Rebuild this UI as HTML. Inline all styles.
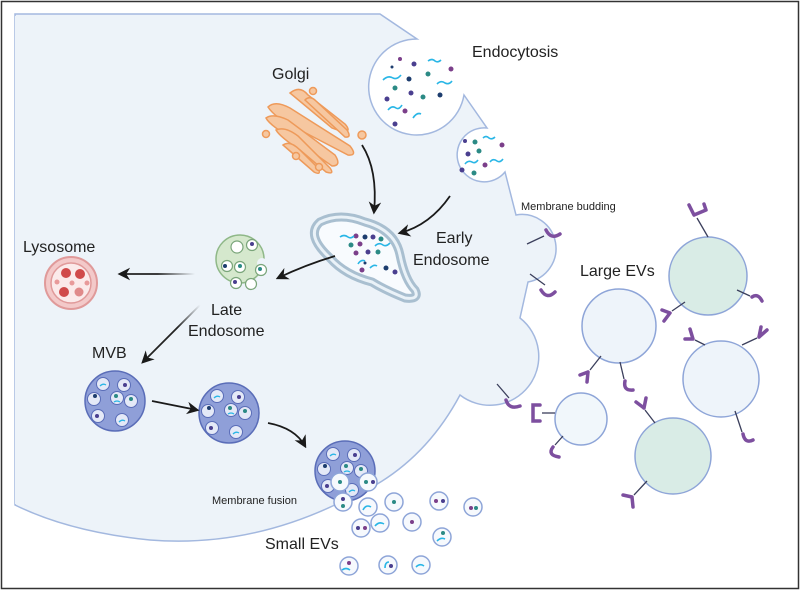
<!DOCTYPE html>
<html><head><meta charset="utf-8"><style>
html,body{margin:0;padding:0;background:#fff}
svg{display:block}
text{font-family:"Liberation Sans",sans-serif;fill:#222}
</style></head><body>
<svg width="800" height="592" viewBox="0 0 800 592" xmlns="http://www.w3.org/2000/svg">
<defs>
<marker id="ah" viewBox="0 0 10 10" refX="8" refY="5" markerWidth="7" markerHeight="7" orient="auto"><path d="M0,0 L10,5 L0,10 L3,5 z" fill="#1a1a1a"/></marker>
<linearGradient id="fadeL" gradientUnits="userSpaceOnUse" x1="195" y1="274" x2="120" y2="274"><stop offset="0" stop-color="#222" stop-opacity="0"/><stop offset="0.5" stop-color="#222"/></linearGradient>
<linearGradient id="fadeD" gradientUnits="userSpaceOnUse" x1="200" y1="305" x2="143" y2="362"><stop offset="0" stop-color="#222" stop-opacity="0"/><stop offset="0.4" stop-color="#222"/></linearGradient>
</defs>
<rect x="0" y="0" width="800" height="592" fill="#fff"/>
<!-- cell -->
<path d="M15,14 L380,14 L417,39 A48,48 0 1 0 464,95 L487,128 A27,27 0 1 0 505,172 L516,215 A30,30 0 0 1 528,282 L520,318 A40,40 0 0 1 460,395 Q420,470 345,500 Q250,548 150,540 Q70,532 15,505 Z" fill="#edf3f9" stroke="#a3b8df" stroke-width="1.5"/>
<rect x="15" y="16" width="3" height="488" fill="#edf3f9"/>
<!-- endocytosis pocket contents -->
<g>
<circle cx="400" cy="59" r="2" fill="#7b3f8a"/><circle cx="414" cy="64" r="2.5" fill="#4a3f8f"/><circle cx="392" cy="67" r="1.5" fill="#1d3d6e"/>
<circle cx="409" cy="79" r="2.5" fill="#1d3d6e"/><circle cx="428" cy="74" r="2.5" fill="#2b8a85"/><circle cx="395" cy="88" r="2.5" fill="#2b8a85"/>
<circle cx="411" cy="93" r="2.5" fill="#4a3f8f"/><circle cx="423" cy="97" r="2.5" fill="#2b8a85"/><circle cx="440" cy="95" r="2.5" fill="#1d3d6e"/>
<circle cx="387" cy="99" r="2.5" fill="#4a3f8f"/><circle cx="405" cy="111" r="2.5" fill="#7b3f8a"/><circle cx="395" cy="124" r="2.5" fill="#4a3f8f"/><circle cx="451" cy="69" r="2.5" fill="#7b3f8a"/>
<path d="M383,80 q5,-5 10,-2 q4,2 8,-3 M437,84 q4,-4 8,-1 q4,2 7,-2 M388,110 q4,-5 8,-2 q3,2 6,-3 M413,118 q4,-6 8,-4 M428,61 q4,-3 7,0 q3,2 6,-1" stroke="#29b6e6" stroke-width="1.6" fill="none"/>
<circle cx="465" cy="141" r="2" fill="#4a3f8f"/><circle cx="475" cy="142" r="2.5" fill="#2b8a85"/><circle cx="502" cy="145" r="2.5" fill="#7b3f8a"/>
<circle cx="468" cy="154" r="2.5" fill="#4a3f8f"/><circle cx="479" cy="151" r="2.5" fill="#2b8a85"/><circle cx="485" cy="165" r="2.5" fill="#7b3f8a"/><circle cx="462" cy="170" r="2.5" fill="#4a3f8f"/><circle cx="474" cy="173" r="2.5" fill="#2b8a85"/>
<path d="M483,138 q3,-3 6,0 q3,2 6,-1 M465,164 q3,-4 7,-2 q3,2 6,-2 M490,162 q3,-4 7,-1 q3,2 6,-2" stroke="#29b6e6" stroke-width="1.6" fill="none"/>
</g>
<!-- Golgi -->
<g fill="#f6c7a0" stroke="#ee9a5a" stroke-width="1.5">
<path d="M290,93 Q300,85 308,95 L345,124 Q352,132 343,132 L332,128 Z"/>
<path d="M305,100 Q310,95 316,101 L347,130 Q352,138 345,137 Z" />
<path d="M268,107 Q275,100 290,108 L350,146 Q358,156 348,155 L300,130 Q275,118 268,107 Z"/>
<path d="M266,118 Q273,113 288,120 L335,155 Q342,166 332,166 L298,142 Q270,126 266,118 Z"/>
<path d="M276,130 Q285,126 298,136 L330,168 Q335,175 326,172 L300,150 Q280,137 276,130 Z"/>
<path d="M283,145 Q290,140 300,150 L318,168 Q322,176 314,172 Z"/>
<circle cx="313" cy="91" r="3.5"/><circle cx="362" cy="135" r="4"/><circle cx="266" cy="134" r="3.5"/><circle cx="296" cy="156" r="3.5"/><circle cx="319" cy="167" r="3.5"/>
</g>
<!-- Early endosome -->
<path d="M320,222 Q340,212 365,222 Q395,230 400,255 Q405,280 415,290 Q420,300 405,298 Q385,290 372,282 Q345,275 330,258 Q305,235 320,222 Z" fill="#f8fbfe" stroke="#a9bfd0" stroke-width="9"/>
<path d="M320,222 Q340,212 365,222 Q395,230 400,255 Q405,280 415,290 Q420,300 405,298 Q385,290 372,282 Q345,275 330,258 Q305,235 320,222 Z" fill="none" stroke="#eaf2f8" stroke-width="3"/>
<g>
<circle cx="356" cy="236" r="2.5" fill="#7b3f8a"/><circle cx="365" cy="237" r="2.5" fill="#1d3d6e"/><circle cx="373" cy="237" r="2.5" fill="#4a3f8f"/><circle cx="381" cy="239" r="2.5" fill="#2b8a85"/>
<circle cx="351" cy="245" r="2.5" fill="#2b8a85"/><circle cx="360" cy="244" r="2.5" fill="#7b3f8a"/><circle cx="368" cy="252" r="2.5" fill="#4a3f8f"/><circle cx="378" cy="252" r="2.5" fill="#2b8a85"/>
<circle cx="356" cy="253" r="2.5" fill="#7b3f8a"/><circle cx="365" cy="263" r="1.5" fill="#1d3d6e"/><circle cx="362" cy="270" r="2.5" fill="#7b3f8a"/><circle cx="386" cy="268" r="2.5" fill="#1d3d6e"/><circle cx="395" cy="272" r="2.5" fill="#4a3f8f"/>
<path d="M340,237 q4,-3 8,0 q3,2 6,-1 M375,246 q4,-4 8,-1 q3,2 7,-2 M358,264 q3,-5 7,-3 M370,268 q4,-4 7,-2" stroke="#29b6e6" stroke-width="1.6" fill="none"/>
</g>
<!-- Lysosome -->
<circle cx="71" cy="283" r="26" fill="#f3c9c9" stroke="#e09a9a" stroke-width="2"/>
<circle cx="71" cy="283" r="20" fill="#fbeaea" stroke="#e09a9a" stroke-width="1.5"/>
<g fill="#d04a4a"><circle cx="66" cy="273" r="5"/><circle cx="80" cy="274" r="5"/><circle cx="64" cy="292" r="5"/><circle cx="79" cy="292" r="4.5" fill="#e08a8a"/></g>
<g fill="#e89a9a"><circle cx="72" cy="283" r="2.5"/><circle cx="57" cy="282" r="2.5"/><circle cx="87" cy="283" r="2.5"/></g>
<!-- Late endosome -->
<circle cx="240" cy="259" r="24" fill="#d5e8cd" stroke="#8fb888" stroke-width="1.5"/>
<circle cx="262" cy="263" r="5" fill="#edf3f9"/>
<g fill="#fff" stroke="#7aa57a" stroke-width="1.2">
<circle cx="237" cy="247" r="6"/><circle cx="252" cy="245" r="5.5"/><circle cx="227" cy="266" r="5.5"/><circle cx="240" cy="267" r="5.5"/><circle cx="261" cy="270" r="5.5"/><circle cx="236" cy="283" r="5.5"/><circle cx="251" cy="284" r="5.5"/>
</g>
<g><circle cx="252" cy="244" r="2" fill="#4a3f8f"/><circle cx="225" cy="266" r="2" fill="#1d3d6e"/><circle cx="240" cy="266" r="2" fill="#2b8a85"/><circle cx="260" cy="269" r="2" fill="#2b8a85"/><circle cx="235" cy="282" r="2" fill="#4a3f8f"/></g>
<!-- MVBs -->
<g id="mvb">
<circle cx="115" cy="401" r="30" fill="#8f9fd8" stroke="#5a6db8" stroke-width="1.5"/>
<g fill="#e4e9f7" stroke="#5a6db8" stroke-width="1"><circle cx="103" cy="384" r="6.5"/><circle cx="124" cy="385" r="6.5"/><circle cx="94" cy="399" r="6.5"/><circle cx="117" cy="398" r="6.5"/><circle cx="131" cy="401" r="6.5"/><circle cx="98" cy="416" r="6.5"/><circle cx="122" cy="420" r="6.5"/></g>
<g><circle cx="125" cy="385" r="2" fill="#4a3f8f"/><circle cx="95" cy="396" r="2" fill="#1d3d6e"/><circle cx="116" cy="396" r="2" fill="#2b8a85"/><circle cx="131" cy="399" r="2" fill="#2b8a85"/><circle cx="97" cy="416" r="2" fill="#4a3f8f"/></g>
<path d="M100,386 q3,-3 6,-1 M119,422 q3,-3 6,-1 M114,402 q3,-2 6,0" stroke="#29b6e6" stroke-width="1.3" fill="none"/>
</g>
<use href="#mvb" transform="translate(114,12)"/>
<g>
<clipPath id="cp3"><path d="M310,440 L380,440 L380,500 L328,510 L310,510 Z"/></clipPath>
<g clip-path="url(#cp3)"><use href="#mvb" transform="translate(230,70)"/></g>
</g>
<!-- small EVs -->
<g fill="#f6f9fd" stroke="#8ea5d8" stroke-width="1.5">
<circle cx="340" cy="482" r="9"/><circle cx="368" cy="482" r="9"/><circle cx="343" cy="502" r="9"/><circle cx="368" cy="507" r="9"/><circle cx="394" cy="502" r="9"/><circle cx="439" cy="501" r="9"/><circle cx="473" cy="507" r="9"/>
<circle cx="361" cy="528" r="9"/><circle cx="380" cy="523" r="9"/><circle cx="412" cy="522" r="9"/><circle cx="442" cy="537" r="9"/><circle cx="349" cy="566" r="9"/><circle cx="388" cy="565" r="9"/><circle cx="421" cy="565" r="9"/>
</g>
<g><circle cx="340" cy="482" r="2" fill="#2b8a85"/><circle cx="366" cy="482" r="2" fill="#2b8a85"/><circle cx="373" cy="482" r="2" fill="#4a3f8f"/><circle cx="343" cy="499" r="2" fill="#4a3f8f"/><circle cx="343" cy="506" r="2" fill="#2b8a85"/><circle cx="394" cy="502" r="2" fill="#2b8a85"/><circle cx="436" cy="501" r="2" fill="#7b3f8a"/><circle cx="443" cy="501" r="2" fill="#4a3f8f"/><circle cx="471" cy="508" r="2" fill="#7b3f8a"/><circle cx="476" cy="508" r="2" fill="#2b8a85"/><circle cx="358" cy="528" r="2" fill="#4a3f8f"/><circle cx="365" cy="528" r="2" fill="#7b3f8a"/><circle cx="412" cy="522" r="2" fill="#7b3f8a"/><circle cx="443" cy="533" r="2" fill="#2b8a85"/><circle cx="349" cy="563" r="2" fill="#7b3f8a"/><circle cx="391" cy="566" r="2" fill="#4a3f8f"/></g>
<path d="M363,510 q3,-6 8,-3 M375,526 q4,-5 9,-2 M437,541 q4,-4 8,-2 M342,570 q4,-3 8,0 M385,568 q0,-6 4,-6 M416,567 q4,-4 8,-1" stroke="#29b6e6" stroke-width="1.6" fill="none"/>
<!-- Large EVs -->
<g stroke="#8ea5d8" stroke-width="1.5">
<circle cx="708" cy="276" r="39" fill="#d9ece6"/>
<circle cx="619" cy="326" r="37" fill="#eef4fa"/>
<circle cx="721" cy="379" r="38" fill="#eef4fa"/>
<circle cx="581" cy="419" r="26" fill="#f1f7fb"/>
<circle cx="673" cy="456" r="38" fill="#d9ece6"/>
</g>
<!-- receptors -->
<g stroke="#3b3f5c" stroke-width="1.3">
<line x1="544" y1="236" x2="527" y2="244"/><line x1="545" y1="285" x2="530" y2="274"/><line x1="509" y1="398" x2="497" y2="384"/>
<line x1="708" y1="237" x2="697" y2="218"/><line x1="685" y1="302" x2="672" y2="311"/><line x1="737" y1="290" x2="750" y2="296"/>
<line x1="601" y1="356" x2="590" y2="370"/><line x1="620" y1="362" x2="624" y2="379"/><line x1="705" y1="345" x2="695" y2="340"/><line x1="742" y1="345" x2="757" y2="338"/><line x1="735" y1="411" x2="742" y2="432"/>
<line x1="555" y1="413" x2="542" y2="413"/><line x1="563" y1="436" x2="555" y2="445"/><line x1="655" y1="423" x2="645" y2="410"/><line x1="647" y1="481" x2="634" y2="495"/>
</g>
<g fill="none" stroke="#7d4f9f" stroke-width="3.5" stroke-linecap="round">
<path d="M546,230 q5,10 14,4"/><path d="M541,290 q6,10 14,2"/><path d="M506,400 q3,10 14,6"/>
<path d="M694,215 l-5,-10 M694,215 l12,-5 M706,210 l-2,-6"/><path d="M670,313 l-6,8 M670,313 l-8,-3"/><path d="M752,297 q6,-4 10,4"/>
<path d="M588,372 l-8,3 M588,372 l-1,10"/><path d="M625,381 q-2,10 8,9"/><path d="M693,339 l-3,-10 M693,339 l-8,0"/><path d="M759,337 l8,-7 M759,337 l2,-10"/><path d="M743,434 q2,10 10,6"/>
<path d="M540,405 l-7,0 l0,16 l7,0"/><path d="M553,447 q-6,8 6,10"/><path d="M644,408 l-8,-6 M644,408 l2,-10"/><path d="M632,497 l-9,-2 M632,497 l1,10"/>
</g>
<!-- arrows -->
<g fill="none" stroke="#1a1a1a" stroke-width="1.8" marker-end="url(#ah)">
<path d="M362,145 Q378,170 374,212"/>
<path d="M450,196 Q430,225 400,233"/>
<path d="M335,256 Q305,265 278,278"/>
<path d="M195,274 L120,274" stroke="url(#fadeL)"/>
<path d="M200,305 L143,362" stroke="url(#fadeD)"/>
<path d="M152,401 L197,410"/>
<path d="M268,423 Q295,428 305,446"/>
</g>
<!-- labels -->
<text x="272" y="79" font-size="16">Golgi</text>
<text x="472" y="57" font-size="16">Endocytosis</text>
<text x="436" y="243" font-size="16">Early</text>
<text x="413" y="265" font-size="16">Endosome</text>
<text x="521" y="210" font-size="11">Membrane budding</text>
<text x="23" y="252" font-size="16">Lysosome</text>
<text x="211" y="315" font-size="16">Late</text>
<text x="188" y="336" font-size="16">Endosome</text>
<text x="92" y="358" font-size="16">MVB</text>
<text x="580" y="276" font-size="16">Large EVs</text>
<text x="212" y="504" font-size="11">Membrane fusion</text>
<text x="265" y="549" font-size="16">Small EVs</text>
<rect x="1.5" y="1.5" width="797" height="587" fill="none" stroke="#333" stroke-width="1.5"/>
</svg>
</body></html>
